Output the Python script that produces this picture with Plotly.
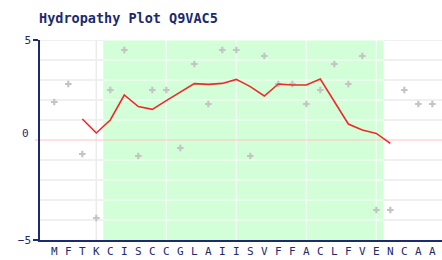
import plotly.graph_objects as go

residues = list("MFTKCISCCGLAIISVFFACLFVENCAA")
hydropathy = [1.9, 2.8, -0.7, -3.9, 2.5, 4.5, -0.8, 2.5, 2.5, -0.4, 3.8, 1.8, 4.5, 4.5,
              -0.8, 4.2, 2.8, 2.8, 1.8, 2.5, 3.8, 2.8, 4.2, -3.5, -3.5, 2.5, 1.8, 1.8]
avg_start = 2
avg_values = [1.05, 0.35, 1.0, 2.25, 1.67, 1.53, 1.97, 2.4, 2.82, 2.78, 2.83, 3.03,
              2.67, 2.2, 2.8, 2.75, 2.75, 3.05, 1.92, 0.8, 0.5, 0.33, -0.17]
region = [3.5, 23.5]
grid_x = [3, 8, 13, 18, 23]
grid_y = [-4, -3, -2, -1, 1, 2, 3, 4, 5]
x_range = [-1.02, 27.69]

navy = "#1c2a6e"
grid_gray = "#ebebeb"
grid_green = "#f0fdf2"
idx = list(range(len(residues)))
avg_x = [avg_start + i for i in range(len(avg_values))]

fig = go.Figure()
fig.add_trace(go.Scatter(x=idx, y=hydropathy, mode="markers",
                         marker=dict(symbol="cross", size=5.5, color="#c4c4c4", line=dict(width=0)),
                         hoverinfo="skip"))
fig.add_trace(go.Scatter(x=avg_x, y=avg_values, mode="lines",
                         line=dict(color="#ee2a2a", width=1.6), hoverinfo="skip"))

shapes = [dict(type="rect", xref="x", yref="y", x0=region[0], x1=region[1], y0=-5, y1=5,
               fillcolor="#d2fed8", line=dict(width=0), layer="below")]
for gx in grid_x:
    inside = region[0] < gx < region[1]
    shapes.append(dict(type="line", xref="x", yref="y", x0=gx, x1=gx, y0=-5, y1=5,
                       line=dict(color=grid_green if inside else grid_gray, width=1.5),
                       layer="below"))
for gy in grid_y:
    shapes.append(dict(type="line", xref="x", yref="y", x0=x_range[0], x1=region[0], y0=gy, y1=gy,
                       line=dict(color=grid_gray, width=1.5), layer="below"))
    shapes.append(dict(type="line", xref="x", yref="y", x0=region[0], x1=region[1], y0=gy, y1=gy,
                       line=dict(color=grid_green, width=1.5), layer="below"))
    shapes.append(dict(type="line", xref="x", yref="y", x0=region[1], x1=x_range[1], y0=gy, y1=gy,
                       line=dict(color=grid_gray, width=1.5), layer="below"))
shapes.append(dict(type="line", xref="x", yref="y", x0=x_range[0], x1=x_range[1], y0=0, y1=0,
                   line=dict(color="#ffc4c4", width=1.2), layer="below"))
shapes.append(dict(type="line", xref="paper", yref="y", x0=-0.0125, x1=0, y0=0, y1=0,
                   line=dict(color="#ffc4c4", width=1.2), layer="below"))

fig.update_layout(
    width=442, height=260,
    margin=dict(l=40, r=0, t=40, b=20),
    paper_bgcolor="white", plot_bgcolor="white",
    showlegend=False,
    shapes=shapes,
    title=dict(text="<b>Hydropathy Plot Q9VAC5</b>", x=39/442, xanchor="left",
               y=1 - 18/260, yanchor="middle",
               font=dict(family="DejaVu Sans Mono", size=13.5, color=navy)),
    xaxis=dict(range=x_range, tickvals=idx, ticktext=residues, showgrid=False,
               zeroline=False, showline=True, linecolor=navy, linewidth=1.5, ticks="",
               tickfont=dict(family="DejaVu Sans Mono", size=11, color=navy)),
    yaxis=dict(range=[-5, 5], tickvals=[-5, 5], ticktext=["\u22125", "5"], showgrid=False,
               zeroline=False, showline=True, linecolor=navy, linewidth=1.5,
               ticks="outside", ticklen=5, tickcolor=navy, tickwidth=1.5,
               tickfont=dict(family="DejaVu Sans Mono", size=11, color=navy)),
    annotations=[dict(text="0", xref="paper", yref="y", x=0, y=0.35, xanchor="right",
                      yanchor="middle", xshift=-9, showarrow=False,
                      font=dict(family="DejaVu Sans Mono", size=11, color=navy))],
)

fig.write_html("out.html")
